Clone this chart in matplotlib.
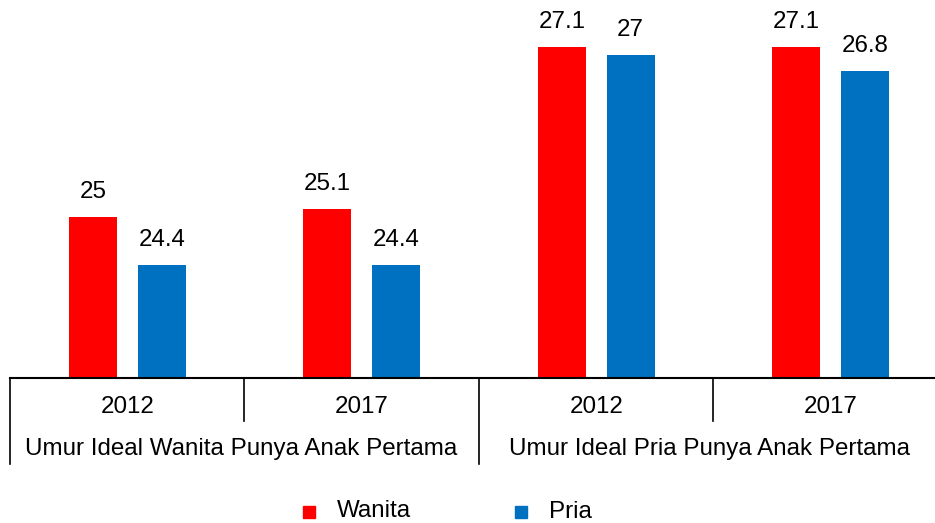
import matplotlib
matplotlib.use('Agg')
import matplotlib.pyplot as plt
import matplotlib.transforms as mtransforms
import numpy as np

plt.rcParams['font.family'] = ['Liberation Sans', 'DejaVu Sans']

years = ['2012', '2017', '2012', '2017']
groups = ['Umur Ideal Wanita Punya Anak Pertama', 'Umur Ideal Pria Punya Anak Pertama']
wanita = [25, 25.1, 27.1, 27.1]
pria = [24.4, 24.4, 27, 26.8]
wanita_lbl = ['25', '25.1', '27.1', '27.1']
pria_lbl = ['24.4', '24.4', '27', '26.8']

red = '#ff0000'
blue = '#0070c0'
W, H = 935, 523
fs = 17.4

fig = plt.figure(figsize=(W / 100, H / 100), dpi=100)
ax = fig.add_axes([10 / W, (H - 378) / H, 1 - 10 / W, 378 / H])

x = np.arange(len(years))
bw = 0.205
off = 0.147
ax.bar(x - off, wanita, bw, color=red, label='Wanita')
ax.bar(x + off, pria, bw, color=blue, label='Pria')

for i in range(len(x)):
    ax.annotate(wanita_lbl[i], (x[i] - off, wanita[i]), xytext=(0, 10), textcoords='offset points',
                ha='center', va='bottom', fontsize=fs)
    ax.annotate(pria_lbl[i], (x[i] + off, pria[i]), xytext=(0, 10), textcoords='offset points',
                ha='center', va='bottom', fontsize=fs)

ax.set_ylim(23, 23 + 378 / 80.7)
ax.set_xlim(-0.5, -0.5 + (W - 10) / 234.5)
for s in ['top', 'right', 'left']:
    ax.spines[s].set_visible(False)
ax.spines['bottom'].set_linewidth(1.5)
ax.set_xticks([])
ax.set_yticks([])

tr = mtransforms.blended_transform_factory(ax.transData, fig.transFigure)
def fy(py):
    return 1 - py / H

# category separators
for xs in [0.5, 2.5]:
    ax.plot([xs, xs], [fy(378), fy(421)], color='black', lw=1.2, transform=tr, clip_on=False)
for xs in [-0.5, 1.5]:
    ax.plot([xs, xs], [fy(378), fy(464)], color='black', lw=1.2, transform=tr, clip_on=False)

for i, y in enumerate(years):
    ax.text(x[i], fy(407), y, ha='center', va='center', fontsize=fs, transform=tr)
for j, g in enumerate(groups):
    ax.text(0.5 + 2 * j - 0.015, fy(449), g, ha='center', va='center', fontsize=fs, transform=tr)

# legend
fig.patches.append(plt.Rectangle((303 / W, fy(518)), 12 / W, 12 / H, color=red, transform=fig.transFigure))
fig.text(337 / W, fy(511), 'Wanita', ha='left', va='center', fontsize=fs)
fig.patches.append(plt.Rectangle((515 / W, fy(518)), 12 / W, 12 / H, color=blue, transform=fig.transFigure))
fig.text(549 / W, fy(512), 'Pria', ha='left', va='center', fontsize=fs)

fig.savefig('out.png', dpi=100)
